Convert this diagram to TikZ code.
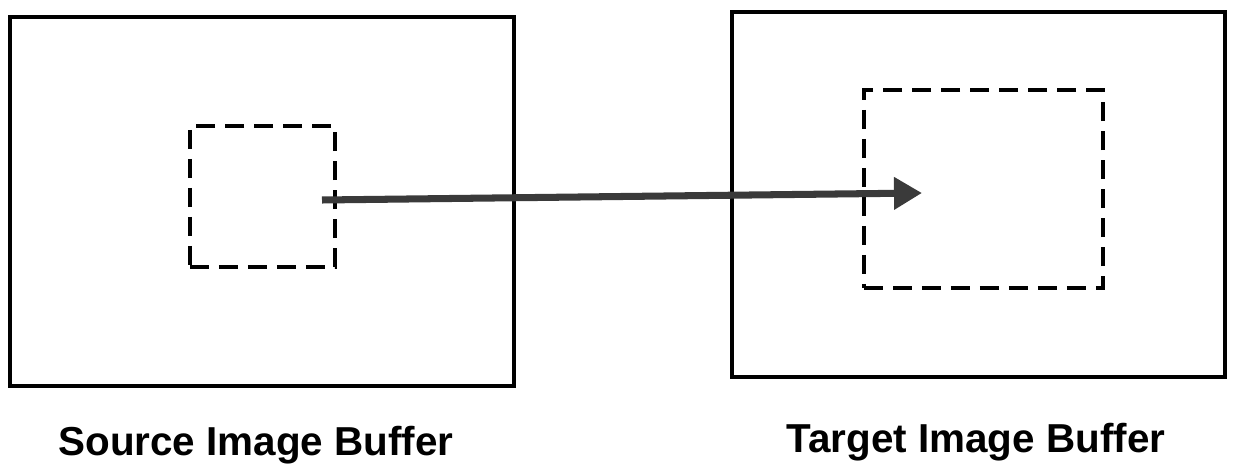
\documentclass[tikz,border=0pt]{standalone}
\usepackage{fontspec}
\setmainfont{Liberation Sans}
\usetikzlibrary{arrows.meta, positioning}
\definecolor{inkgrey}{HTML}{3A3A3A}

\begin{document}
\begin{tikzpicture}[
    buffer/.style={draw, line width=2pt, inner sep=0pt},
    window/.style={draw, line width=1.8pt, inner sep=0pt,
                   dash pattern=on 11pt off 5.5pt},
    caption/.style={font=\fontsize{23}{27}\selectfont\bfseries,
                    anchor=base, inner sep=0pt},
    move/.style={inkgrey, line width=4pt,
                 -{Triangle[length=0.56cm, width=0.62cm]}}]
  \useasboundingbox (0,0) rectangle (24.7,9.26);
  % buffers
  \node[buffer, minimum width=10.08cm, minimum height=7.38cm]
    (src) at (5.24,5.23) {};
  \node[buffer, minimum width=9.86cm, minimum height=7.3cm]
    (tgt) at (19.57,5.37) {};
  % windows
  \node[window, minimum width=2.9cm, minimum height=2.82cm]
    (srcwin) at (5.25,5.33) {};
  \node[window, minimum width=4.78cm, minimum height=3.96cm]
    (tgtwin) at (19.67,5.48) {};
  % captions
  \node[caption] (srclabel) at (5.12,0.16) {Source Image Buffer};
  \node[caption] (tgtlabel) at (19.52,0.22) {Target Image Buffer};
  % the copy
  \coordinate (from) at (6.44,5.26);
  \coordinate (to) at (18.44,5.40);
  \draw[move] (from) -- (to);
\end{tikzpicture}
\end{document}
